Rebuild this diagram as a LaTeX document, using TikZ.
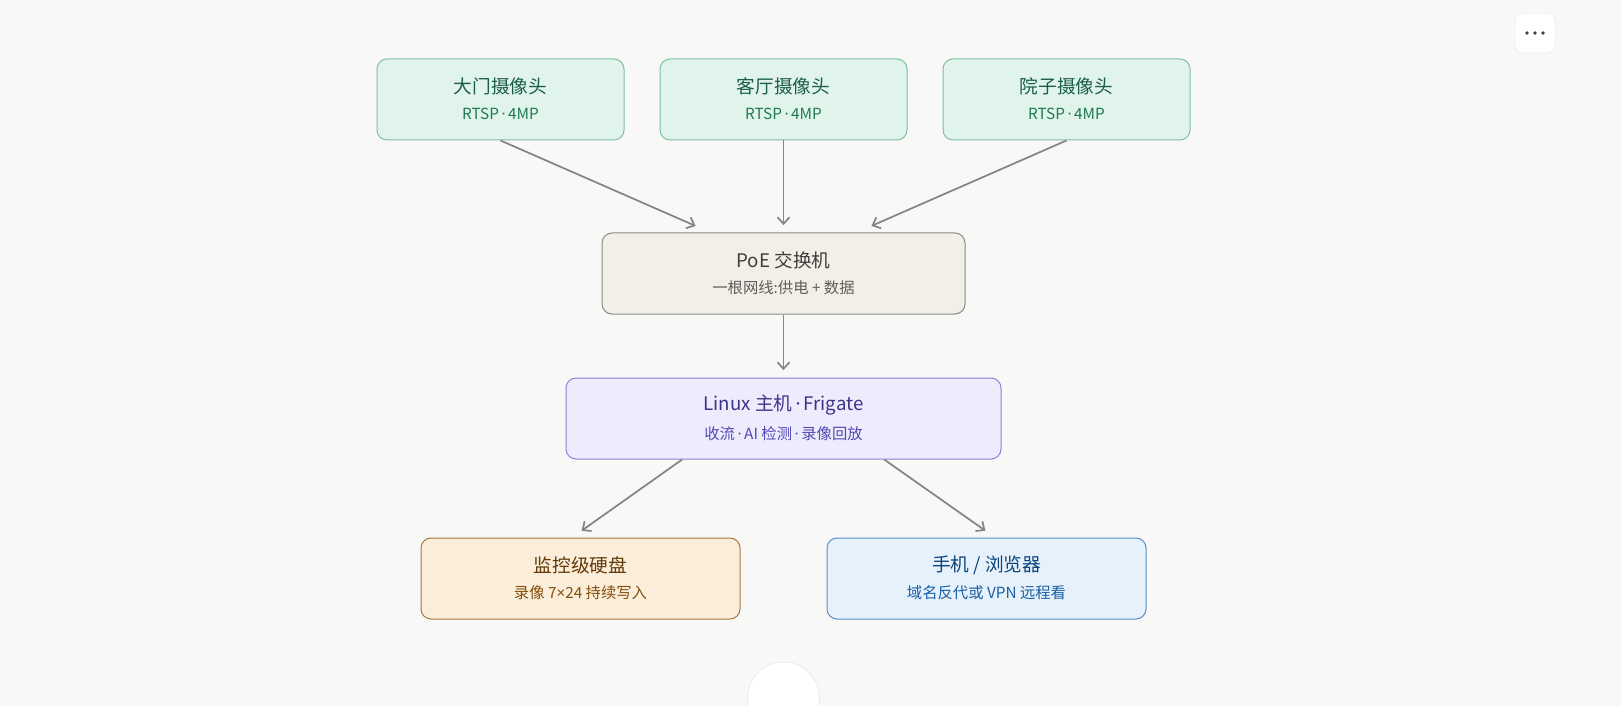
\documentclass[tikz,border=0pt]{standalone}
\usepackage{fontspec}
\setmainfont{Noto Sans CJK SC}
\newfontfamily\lat{Noto Sans}
\newcommand{\md}{\,{\lat·}\,}
\usetikzlibrary{arrows.meta}
\begin{document}
\begin{tikzpicture}[x=0.75pt,y=-0.75pt,
 box/.style={draw,rounded corners=7.5pt,line width=0.75pt,minimum height=60.75pt,inner sep=0pt},
 ttl/.style={font=\fontsize{14}{16}\selectfont},
 sub/.style={font=\fontsize{11.5}{13}\selectfont},
 arr/.style={draw=black!48,line width=1.3pt,-{Straight Barb[length=5pt,width=9pt]},shorten >=1pt}]
\fill[fill={rgb,255:red,248;green,248;blue,247}] (0,0) rectangle (1621,706);
\useasboundingbox (0,0) rectangle (1621,706);
\definecolor{gF}{HTML}{E1F4EC}\definecolor{gD}{HTML}{80BFA6}\definecolor{gT}{HTML}{1A5E45}\definecolor{gS}{HTML}{1E7A55}
\definecolor{pF}{HTML}{F2EFE9}\definecolor{pD}{HTML}{8C8A85}\definecolor{pT}{HTML}{3D3D3A}\definecolor{pS}{HTML}{5F5E5A}
\definecolor{lF}{HTML}{EEEBFD}\definecolor{lD}{HTML}{8F80D8}\definecolor{lT}{HTML}{3C3489}\definecolor{lS}{HTML}{534AB7}
\definecolor{dF}{HTML}{FAEEDA}\definecolor{dD}{HTML}{A47A3F}\definecolor{dT}{HTML}{633806}\definecolor{dS}{HTML}{854F0B}
\definecolor{bF}{HTML}{E6F1FB}\definecolor{bD}{HTML}{5A8FCC}\definecolor{bT}{HTML}{0C447C}\definecolor{bS}{HTML}{185FA5}
\node[box,fill=gF,draw=gD,minimum width=185.25pt] (c1) at (500.5,99.5) {};
\node[box,fill=gF,draw=gD,minimum width=185.25pt] (c2) at (783.5,99.5) {};
\node[box,fill=gF,draw=gD,minimum width=185.25pt] (c3) at (1066.5,99.5) {};
\node[box,fill=pF,draw=pD,minimum width=272.25pt] (poe) at (783.5,273.5) {};
\node[box,fill=lF,draw=lD,minimum width=326.25pt] (lin) at (783.5,418.5) {};
\node[box,fill=dF,draw=dD,minimum width=239.25pt] (disk) at (580.5,578.5) {};
\node[box,fill=bF,draw=bD,minimum width=239.25pt] (ph) at (986.5,578.5) {};
\foreach \n/\t/\s/\ct/\cs in {c1/大门摄像头/{RTSP\md 4MP}/gT/gS, c2/客厅摄像头/{RTSP\md 4MP}/gT/gS, c3/院子摄像头/{RTSP\md 4MP}/gT/gS,
 poe/{PoE 交换机}/{一根网线:供电 + 数据}/pT/pS, lin/{Linux 主机\md Frigate}/{收流\md AI 检测\md 录像回放}/lT/lS,
 disk/监控级硬盘/{录像 7{\lat×}24 持续写入}/dT/dS, ph/{手机 / 浏览器}/{域名反代或 VPN 远程看}/bT/bS}{
 \node[ttl,text=\ct] (\n t) at ([yshift=10pt]\n.center) {\t};
 \node[sub,text=\cs] (\n s) at ([yshift=-11pt]\n.center) {\s};
}
\coordinate (a1) at ([xshift=-65pt,yshift=4.5pt]poe.north);
\coordinate (a3) at ([xshift=65pt,yshift=4.5pt]poe.north);
\coordinate (a2) at ([yshift=4.5pt]poe.north);
\draw[arr] (c1.south) -- (a1);
\draw[arr] (c2.south) -- (a2);
\draw[arr] (c3.south) -- (a3);
\draw[arr] (poe.south) -- ([yshift=4.5pt]lin.north);
\coordinate (l1) at ([xshift=-76pt]lin.south);
\coordinate (l2) at ([xshift=75.5pt]lin.south);
\draw[arr] (l1) -- ([yshift=4.5pt]disk.north);
\draw[arr] (l2) -- ([yshift=4.5pt]ph.north);
\node[draw=black!8,fill=white,rounded corners=6pt,minimum width=30pt,minimum height=30pt] (menu) at (1535,33) {};
\foreach \dx in {-6,0,6}\fill[black!75] ([xshift=\dx pt]menu.center) circle (1.4pt);
\node[circle,draw=black!10,fill=white,minimum size=54pt] (circ) at (783.5,698) {};
\end{tikzpicture}
\end{document}
